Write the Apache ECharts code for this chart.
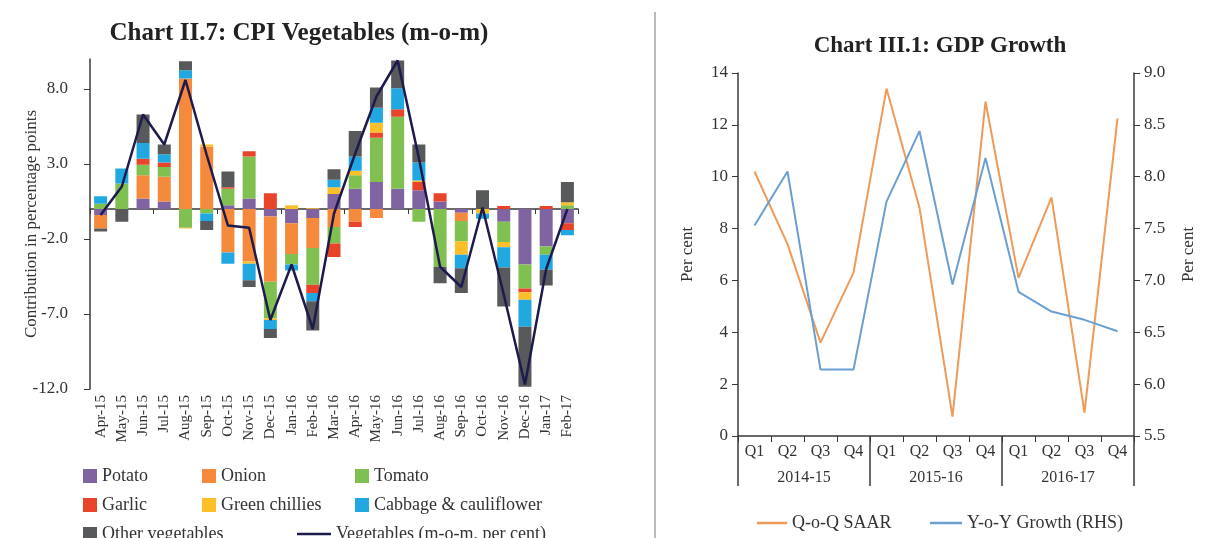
<!DOCTYPE html>
<html>
<head>
<meta charset="utf-8">
<title>CPI Vegetables / GDP Growth</title>
<script src="https://cdn.jsdelivr.net/npm/echarts@6/dist/echarts.min.js"></script>
<style>
  html, body { margin: 0; padding: 0; background: #fff; }
  #chart { width: 1206px; height: 538px; }
</style>
</head>
<body>
<div id="chart"></div>
<script>
// ---- Chart II.7 data (contribution in percentage points) ----
const months = ['Apr-15','May-15','Jun-15','Jul-15','Aug-15','Sep-15','Oct-15','Nov-15','Dec-15','Jan-16','Feb-16','Mar-16',
  'Apr-16','May-16','Jun-16','Jul-16','Aug-16','Sep-16','Oct-16','Nov-16','Dec-16','Jan-17','Feb-17']
const potato = [-0.4, 0, 0.7, 0.5, 0, 0, 0.25, 0.7, -0.5, -0.95, -0.6, 1.0, 1.35, 1.8, 1.35, 1.25, 0.5, -0.25, 0, -0.85, -3.7, -2.5, -0.95]
const onion = [-0.9, 0, 1.55, 1.65, 8.7, 4.15, -2.9, -3.5, -4.35, -2.05, -2.0, -1.2, -0.85, -0.6, 0, 0, 0, -0.55, 0, 0, 0, 0, 0]
const tomato = [0.35, 1.7, 0.7, 0.65, -1.25, -0.3, 1.1, 2.8, -2.45, -0.7, -2.45, -1.1, 0.9, 2.95, 4.8, -0.85, -3.85, -1.35, 0, -1.35, -1.6, -0.55, 0.25]
const garlic = [0, 0, 0.4, 0.3, 0, 0, 0.1, 0.35, 1.05, 0, -0.55, -0.9, -0.35, 0.35, 0.5, 0.55, 0.55, 0, 0, 0.2, -0.25, 0.2, -0.45]
const greenChillies = [0, 0, 0, 0, -0.05, 0.15, 0, -0.15, -0.1, 0.25, 0.05, 0.45, 0.3, 0.65, 0, 0.1, 0, -0.9, -0.3, -0.35, -0.5, 0, 0.2]
const cabbage = [0.5, 1.0, 1.05, 0.55, 0.55, -0.5, -0.75, -1.1, -0.6, -0.4, -0.55, 0.5, 0.95, 1.0, 1.4, 1.2, 0, -0.9, -0.35, -1.35, -1.8, -1.0, -0.35]
const otherVeg = [-0.2, -0.85, 1.9, 0.65, 0.6, -0.6, 1.05, -0.45, -0.6, 0, -1.95, 0.7, 1.7, 1.35, 1.85, 1.2, -1.1, -1.65, 1.25, -2.6, -4.0, -1.05, 1.35]
const vegMom = [-0.4, 1.5, 6.3, 4.3, 8.6, 3.6, -1.1, -1.25, -7.4, -3.7, -8.0, -0.3, 3.7, 7.5, 9.9, 3.4, -3.85, -5.2, 0.1, -5.7, -11.7, -4.0, 0.0]
const leftTicks = [-12, -7, -2, 3, 8]

// ---- Chart III.1 data ----
const quarters = ['2014-15 Q1','2014-15 Q2','2014-15 Q3','2014-15 Q4',
  '2015-16 Q1','2015-16 Q2','2015-16 Q3','2015-16 Q4',
  '2016-17 Q1','2016-17 Q2','2016-17 Q3','2016-17 Q4']
const fiscalYears = ['2014-15', '2015-16', '2016-17']
const qoqSaar = [10.2, 7.4, 3.6, 6.3, 13.4, 8.8, 0.75, 12.9, 6.1, 9.2, 0.9, 12.25]
const yoyGrowth = [7.53, 8.05, 6.14, 6.14, 7.76, 8.44, 6.96, 8.18, 6.89, 6.70, 6.62, 6.51]

const FONT = 'Liberation Serif'
const INK = '#333'
const AXIS = '#3a3a3a'

const vegColors = {
  Potato: '#8064a2',
  Onion: '#f58a3c',
  Tomato: '#80c050',
  Garlic: '#e8442a',
  'Green chillies': '#fbbf2a',
  'Cabbage & cauliflower': '#22a8e0',
  'Other vegetables': '#58595b'
}

function barSeries(name, data) {
  return {
    name: name,
    type: 'bar',
    stack: 'veg',
    xAxisIndex: 0,
    yAxisIndex: 0,
    barWidth: 13,
    itemStyle: { color: vegColors[name] },
    data: data
  }
}

// one legend box per entry so the 3-column layout of the original is kept
function legendAt(name, left, top, lineW) {
  return {
    data: [{ name: name, icon: 'rect' }],
    left: left,
    top: top,
    itemWidth: lineW || 14,
    itemHeight: lineW ? 2.5 : 14,
    selectedMode: false,
    textStyle: { fontFamily: FONT, fontSize: 18, color: INK }
  }
}

const chart = echarts.init(document.getElementById('chart'))

chart.setOption({
  animation: false,
  backgroundColor: '#fff',
  title: [
    {
      text: 'Chart II.7: CPI Vegetables (m-o-m)',
      left: 294, top: 16, textAlign: 'center',
      textStyle: { fontFamily: FONT, fontSize: 25, fontWeight: 'bold', color: '#222' }
    },
    {
      text: 'Chart III.1: GDP Growth',
      left: 935, top: 30, textAlign: 'center',
      textStyle: { fontFamily: FONT, fontSize: 23, fontWeight: 'bold', color: '#222' }
    }
  ],
  graphic: [{
    type: 'line',
    shape: { x1: 655, y1: 12, x2: 655, y2: 538 },
    style: { stroke: '#777', lineWidth: 1 }
  }],
  legend: [
    legendAt('Potato', 78, 462),
    legendAt('Onion', 197, 462),
    legendAt('Tomato', 350, 462),
    legendAt('Garlic', 78, 491),
    legendAt('Green chillies', 197, 491),
    legendAt('Cabbage & cauliflower', 350, 491),
    legendAt('Other vegetables', 78, 520),
    legendAt('Vegetables (m-o-m, per cent)', 292, 520, 34),
    legendAt('Q-o-Q SAAR', 752, 509, 30),
    legendAt('Y-o-Y Growth (RHS)', 925, 509, 32)
  ],
  grid: [
    { left: 90, right: 628, top: 59, bottom: 149 },
    { left: 738, right: 72, top: 73, bottom: 102 }
  ],
  xAxis: [
    { // month labels at the bottom
      type: 'category', gridIndex: 0, data: months, position: 'bottom',
      axisLine: { show: false, onZero: false },
      axisTick: { show: false },
      axisLabel: { rotate: 90, margin: 6, fontFamily: FONT, fontSize: 15, color: INK }
    },
    { // zero line with ticks
      type: 'category', gridIndex: 0, data: months, position: 'bottom',
      axisLine: { onZero: true, lineStyle: { color: AXIS, width: 1.5 } },
      axisTick: { show: true, length: 5, lineStyle: { color: AXIS } },
      axisLabel: { show: false }
    },
    { // quarters
      type: 'category', gridIndex: 1, data: quarters, position: 'bottom',
      axisLine: { onZero: false, lineStyle: { color: AXIS, width: 1.5 } },
      axisTick: { show: true, length: 6, lineStyle: { color: AXIS } },
      axisLabel: {
        margin: 8, fontFamily: FONT, fontSize: 16, color: INK,
        formatter: v => v.split(' ')[1]
      }
    },
    { // fiscal years
      type: 'category', gridIndex: 1, data: fiscalYears, position: 'bottom',
      axisLine: { show: false, onZero: false },
      axisTick: { show: true, length: 50, lineStyle: { color: AXIS, width: 1.5 } },
      axisLabel: { margin: 34, fontFamily: FONT, fontSize: 16, color: INK }
    }
  ],
  yAxis: [
    {
      type: 'value', gridIndex: 0, min: -12, max: 10, interval: 5,
      name: 'Contribution in percentage points',
      nameLocation: 'middle', nameGap: 50, nameRotate: 90, nameMoveOverlap: false,
      nameTextStyle: { fontFamily: FONT, fontSize: 17, color: INK },
      splitLine: { show: false },
      axisLine: { show: true, lineStyle: { color: AXIS, width: 1.5 } },
      axisTick: { show: true, length: 6, customValues: leftTicks, lineStyle: { color: AXIS } },
      axisLabel: {
        customValues: leftTicks, margin: 22,
        fontFamily: FONT, fontSize: 17, color: INK,
        formatter: v => v.toFixed(1)
      }
    },
    {
      type: 'value', gridIndex: 1, min: 0, max: 14, interval: 2, position: 'left',
      name: 'Per cent', nameLocation: 'middle', nameGap: 42, nameRotate: 90, nameMoveOverlap: false,
      nameTextStyle: { fontFamily: FONT, fontSize: 17, color: INK },
      splitLine: { show: false },
      axisLine: { show: true, lineStyle: { color: AXIS, width: 1.5 } },
      axisTick: { show: true, length: 6, lineStyle: { color: AXIS } },
      axisLabel: { margin: 10, fontFamily: FONT, fontSize: 17, color: INK }
    },
    {
      type: 'value', gridIndex: 1, min: 5.5, max: 9.0, interval: 0.5, position: 'right',
      name: 'Per cent', nameLocation: 'middle', nameGap: 46, nameRotate: 90, nameMoveOverlap: false,
      nameTextStyle: { fontFamily: FONT, fontSize: 17, color: INK },
      splitLine: { show: false },
      axisLine: { show: true, lineStyle: { color: AXIS, width: 1.5 } },
      axisTick: { show: true, length: 6, lineStyle: { color: AXIS } },
      axisLabel: {
        margin: 10, fontFamily: FONT, fontSize: 17, color: INK,
        formatter: v => v.toFixed(1)
      }
    }
  ],
  series: [
    barSeries('Potato', potato),
    barSeries('Onion', onion),
    barSeries('Tomato', tomato),
    barSeries('Garlic', garlic),
    barSeries('Green chillies', greenChillies),
    barSeries('Cabbage & cauliflower', cabbage),
    barSeries('Other vegetables', otherVeg),
    {
      name: 'Vegetables (m-o-m, per cent)',
      type: 'line', xAxisIndex: 0, yAxisIndex: 0,
      symbol: 'none', z: 5,
      lineStyle: { color: '#1d1a4e', width: 2.5 },
      itemStyle: { color: '#1d1a4e' },
      data: vegMom
    },
    {
      name: 'Q-o-Q SAAR',
      type: 'line', xAxisIndex: 2, yAxisIndex: 1,
      symbol: 'none',
      lineStyle: { color: '#ee9a58', width: 2 },
      itemStyle: { color: '#ee9a58' },
      data: qoqSaar
    },
    {
      name: 'Y-o-Y Growth (RHS)',
      type: 'line', xAxisIndex: 2, yAxisIndex: 2,
      symbol: 'none',
      lineStyle: { color: '#6a9fd0', width: 2 },
      itemStyle: { color: '#6a9fd0' },
      data: yoyGrowth
    }
  ]
})
</script>
</body>
</html>
